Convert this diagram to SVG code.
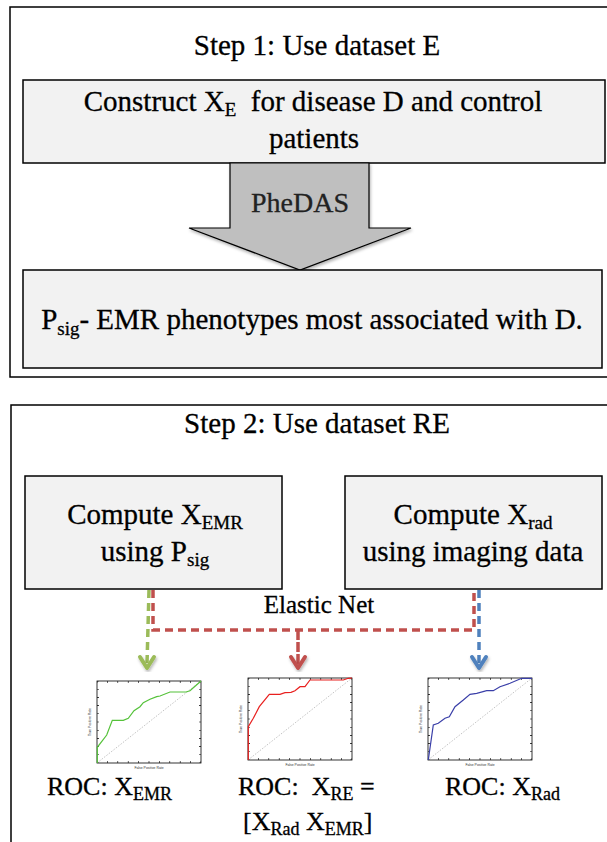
<svg xmlns="http://www.w3.org/2000/svg" xmlns:xlink="http://www.w3.org/1999/xlink" width="607" height="842" viewBox="0 0 607 842">
<style>
  .t { font-family: 'Liberation Serif', 'Times New Roman', Times, 'DejaVu Serif', serif; font-size: 29px; fill: #000; stroke: #000; stroke-width: 0.3; }
  .s { font-size: 19px; }
  .roc { font-family: 'Liberation Serif', 'Times New Roman', Times, 'DejaVu Serif', serif; font-size: 26px; fill: #000; stroke: #000; stroke-width: 0.3; }
  .rs { font-size: 18px; }
  .outer { fill: #fff; stroke: #000; stroke-width: 1.5; }
  .box { fill: #f2f2f2; stroke: #000; stroke-width: 1.5; }
  .ax { font-family: 'Liberation Sans', sans-serif; font-size: 3.4px; fill: #333; }
  .dash { fill: none; stroke-width: 3.5; stroke-dasharray: 8 5; }
  .head { fill: none; stroke-width: 4; stroke-linecap: round; stroke-linejoin: round; }
</style>
<defs>
  <filter id="sh" x="-20%" y="-20%" width="140%" height="150%">
    <feDropShadow dx="1" dy="2" stdDeviation="1.5" flood-color="#000" flood-opacity="0.3"/>
  </filter>
  <g id="frame">
    <rect x="0" y="0" width="104" height="82" fill="#fff" stroke="#000" stroke-width="0.8"/>
    <line x1="0" y1="82" x2="104" y2="0" stroke="#999" stroke-width="0.6" stroke-dasharray="1.5 1.5"/>
    <line x1="0" y1="81" x2="104" y2="81" stroke="#000" stroke-width="2" stroke-dasharray="0.6 9.8" stroke-dashoffset="0.3"/>
    <line x1="0" y1="1" x2="104" y2="1" stroke="#000" stroke-width="2" stroke-dasharray="0.6 9.8" stroke-dashoffset="0.3"/>
    <line x1="1" y1="82" x2="1" y2="0" stroke="#000" stroke-width="2" stroke-dasharray="0.6 7.6" stroke-dashoffset="0.3"/>
    <line x1="103" y1="82" x2="103" y2="0" stroke="#000" stroke-width="2" stroke-dasharray="0.6 7.6" stroke-dashoffset="0.3"/>
    <text class="ax" x="52" y="88" text-anchor="middle">False Positive Rate</text>
    <text class="ax" x="0" y="0" text-anchor="middle" transform="translate(-6 41) rotate(-90)">True Positive Rate</text>
  </g>
</defs>

<rect width="607" height="842" fill="#fff"/>

<g id="step1">
  <rect class="outer" x="10" y="7" width="610" height="370"/>
  <text class="t" x="317" y="55" text-anchor="middle">Step 1: Use dataset E</text>
</g>

<g id="construct">
  <rect class="box" x="23" y="80" width="582" height="83"/>
  <text class="t" x="313" y="111" text-anchor="middle" xml:space="preserve">Construct X<tspan class="s" dy="5">E</tspan><tspan dy="-5">  for disease D and control</tspan></text>
  <text class="t" x="314" y="148" text-anchor="middle">patients</text>
</g>

<g id="phedas">
  <polygon points="230,163 369,163 369,228 411,228 300,270 189,228 230,228" fill="#bfbfbf" stroke="#000" stroke-width="1.2" filter="url(#sh)"/>
  <text class="t" x="300" y="212" text-anchor="middle" style="font-size:28px;fill:#222;stroke:#222">PheDAS</text>
</g>

<g id="psig">
  <rect class="box" x="23" y="270" width="579" height="98"/>
  <text class="t" x="312" y="329" text-anchor="middle">P<tspan class="s" dy="6">sig</tspan><tspan dy="-6">- EMR phenotypes most associated with D.</tspan></text>
</g>

<g id="step2">
  <rect class="outer" x="11" y="405" width="610" height="460"/>
  <text class="t" x="317" y="433" text-anchor="middle">Step 2: Use dataset RE</text>
</g>

<g id="emr">
  <rect class="box" x="25" y="476" width="257" height="113"/>
  <text class="t" x="155" y="524" text-anchor="middle">Compute X<tspan class="s" dy="5">EMR</tspan></text>
  <text class="t" x="155" y="561" text-anchor="middle">using P<tspan class="s" dy="5">sig</tspan></text>
</g>

<g id="rad">
  <rect class="box" x="345" y="476" width="257" height="113"/>
  <text class="t" x="473" y="524" text-anchor="middle">Compute X<tspan class="s" dy="5">rad</tspan></text>
  <text class="t" x="473" y="561" text-anchor="middle">using imaging data</text>
</g>

<g id="connectors">
  <path class="dash" stroke="#c0504d" d="M153,590 L153,630 L474,630 L474,590"/>
  <path class="dash" stroke="#9bbb59" d="M149,590 L147,664"/>
  <path class="dash" stroke="#4f81bd" d="M479,590 L479,664"/>
  <path class="dash" stroke="#c0504d" style="stroke-dasharray:10 2" d="M298,630 L298,665"/>
  <g filter="url(#sh)">
    <path class="head" stroke="#9bbb59" d="M140,657 L147,668 L154,657"/>
    <path class="head" stroke="#c0504d" d="M291,657 L298,668 L305,657"/>
    <path class="head" stroke="#4f81bd" d="M472,657 L479,668 L486,657"/>
  </g>
  <text class="t" x="319" y="613" text-anchor="middle" style="font-size:25px">Elastic Net</text>
</g>

<g id="roc-emr">
  <use xlink:href="#frame" href="#frame" x="97" y="681"/>
  <polyline fill="none" stroke="#55c23a" stroke-width="1.2" points="97.3,763 97.3,747.3 106.7,735 112.3,720.3 123.3,720.3 128.3,718.3 134,710.7 140,706.7 143.3,702.7 150,699.3 156.7,696.7 160,696 170,692 186,692 190,690.7 201,681"/>
  <text class="roc" x="47" y="795">ROC: X<tspan class="rs" dy="5">EMR</tspan></text>
</g>

<g id="roc-re">
  <use xlink:href="#frame" href="#frame" x="248" y="678"/>
  <polyline fill="none" stroke="#e8201f" stroke-width="1.2" points="248.3,760 248.3,726.7 253.3,718.3 259.3,706.7 269.3,694.3 280,694.3 285,692.7 291,692.3 295,690.7 300,686.7 305,686.7 310,680 343.3,680 348.3,678.3 352,678"/>
  <text class="roc" x="238" y="795" xml:space="preserve">ROC:  X<tspan class="rs" dy="5">RE</tspan><tspan dy="-5"> =</tspan></text>
  <text class="roc" x="243" y="830">[X<tspan class="rs" dy="5">Rad</tspan><tspan dy="-5"> X</tspan><tspan class="rs" dy="5">EMR</tspan><tspan dy="-5">]</tspan></text>
</g>

<g id="roc-rad">
  <use xlink:href="#frame" href="#frame" x="428" y="678"/>
  <polyline fill="none" stroke="#3a3fa8" stroke-width="1.2" points="428.3,760 433.3,725 438.3,723.3 445,718.3 449.3,716.7 455,706.7 463.3,700 470,694.3 476.7,693.3 486.7,690.7 493.3,690.7 500,686.7 510,683.3 521.7,678.3 532,678.3"/>
  <text class="roc" x="445" y="795">ROC: X<tspan class="rs" dy="5">Rad</tspan></text>
</g>
</svg>
